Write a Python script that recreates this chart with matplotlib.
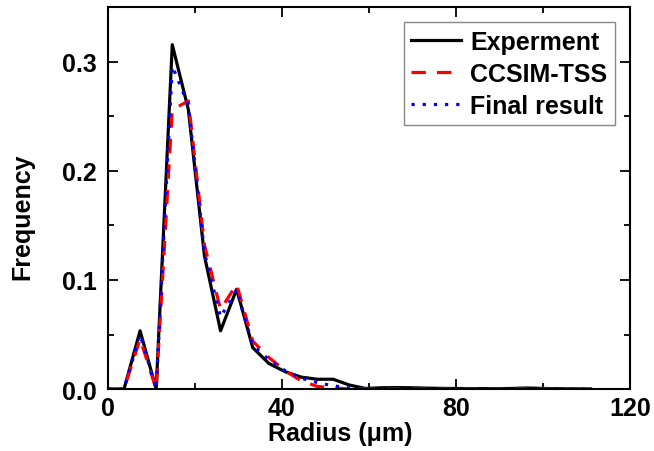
import numpy as np
import matplotlib.pyplot as plt
from matplotlib.ticker import MultipleLocator

plt.rcParams['font.family'] = ['Liberation Sans', 'DejaVu Sans']
plt.rcParams['font.weight'] = 'bold'

# bin centres (um)
radius = [0, 3.7, 7.4, 11.1, 14.8, 18.5, 22.2, 25.9, 29.6, 33.3, 37.0, 40.7,
          44.4, 48.1, 51.8, 55.5, 59.2, 62.9, 66.6, 70.3, 74.0, 77.7, 81.4,
          85.1, 88.8, 92.5, 96.2, 99.9, 103.6, 107.3, 111.0]

experiment = [0, 0, 0.0534, 0, 0.3156, 0.256, 0.122, 0.0534, 0.0915, 0.038,
              0.0235, 0.0160, 0.0110, 0.0090, 0.0090, 0.0037, 0.0006, 0.0012,
              0.0014, 0.0012, 0.0008, 0.0006, 0.0005, 0.0004, 0.0004, 0.0005,
              0.0010, 0.0006, 0.0003, 0.0002, 0.0001]

ccsim_tss = [0, 0, 0.046, 0, 0.256, 0.264, 0.132, 0.073, 0.096, 0.044,
             0.029, 0.017, 0.0076, 0.0025, 0.0010, 0.0002, 0, 0, 0, 0, 0, 0,
             0, 0, 0, 0, 0, 0, 0, 0, 0]

final_result = [0, 0, 0.050, 0, 0.296, 0.260, 0.125, 0.066, 0.091, 0.040,
                0.027, 0.017, 0.0100, 0.0060, 0.0030, 0.0010, 0.0003, 0.0002,
                0.0002, 0.0002, 0.0001, 0.0001, 0.0001, 0.0001, 0.0001, 0.0001,
                0.0002, 0.0001, 0.0001, 0.0001, 0.0001]

xticks = [0, 40, 80, 120]
yticks = [0.0, 0.1, 0.2, 0.3]

fig = plt.figure(figsize=(6.54, 4.52), dpi=100)
ax = fig.add_axes([0.165, 0.137, 0.798, 0.845])

ax.plot(radius, experiment, color='black', lw=2.3, label='Experment')
ax.plot(radius, ccsim_tss, color='red', lw=2.3, ls=(0, (4.5, 3.5)), label='CCSIM-TSS')
ax.plot(radius, final_result, color='blue', lw=2.3, ls=(0, (1, 2.5)), label='Final result')

ax.set_xlim(0, 120)
ax.set_ylim(0, 0.35)
ax.set_xticks(xticks)
ax.set_xticklabels([str(v) for v in xticks])
ax.xaxis.set_minor_locator(MultipleLocator(20))
ax.set_yticks(yticks)
ax.set_yticklabels(['%.1f' % v for v in yticks])
ax.yaxis.set_minor_locator(MultipleLocator(0.05))
ax.tick_params(which='both', direction='in', top=True, right=True, width=1.3,
               labelsize=18)
ax.tick_params(axis='y', which='major', pad=8)
ax.tick_params(axis='x', which='major', pad=5)
ax.tick_params(which='major', length=7)
ax.tick_params(which='minor', length=4)
for s in ax.spines.values():
    s.set_linewidth(1.5)

ax.set_xlabel('Radius (\u03bcm)', fontsize=18, fontweight='bold')
ax.xaxis.set_label_coords(0.445, -0.084)
ax.set_ylabel('Frequency', fontsize=18, fontweight='bold')
ax.yaxis.set_label_coords(-0.14, 0.455)

leg = ax.legend(loc='upper right', fontsize=18, handlelength=2.0,
                borderaxespad=0.6, fancybox=False, edgecolor='#888888',
                framealpha=1, handletextpad=0.35, labelspacing=0.32,
                borderpad=0.3)
leg.get_frame().set_linewidth(1.0)

fig.savefig('out.png', dpi=100)
